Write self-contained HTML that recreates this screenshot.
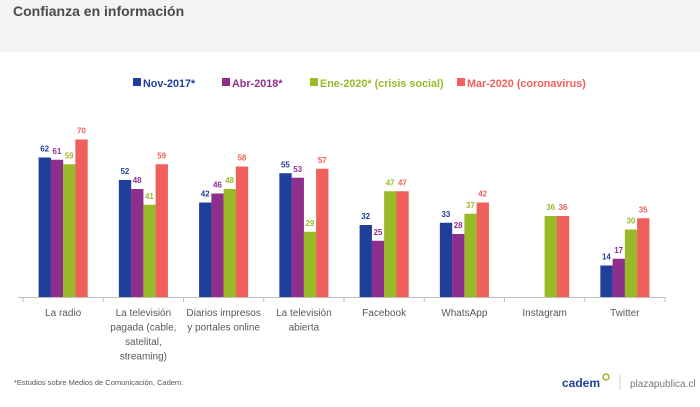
<!DOCTYPE html>
<html><head><meta charset="utf-8"><style>
html,body{margin:0;padding:0;background:#fff;}
body{width:700px;height:402px;overflow:hidden;font-family:"Liberation Sans",sans-serif;}
</style></head><body>
<svg id="s" width="700" height="402" xmlns="http://www.w3.org/2000/svg" font-family="Liberation Sans, sans-serif">
<rect x="0" y="0" width="700" height="52" fill="#f3f4f6"/>
<text x="13" y="16" font-size="14" font-weight="bold" fill="#4a4a4a">Confianza en información</text>
<g font-size="10.8" font-weight="bold">
<rect x="133" y="78" width="8" height="8" fill="#1f3f9b"/><text x="143" y="87" fill="#1f3f9b">Nov-2017*</text>
<rect x="222" y="78" width="8" height="8" fill="#8e2f8e"/><text x="232" y="87" fill="#8e2f8e">Abr-2018*</text>
<rect x="310" y="78" width="8" height="8" fill="#98b928"/><text x="320" y="87" fill="#98b928">Ene-2020* (crisis social)</text>
<rect x="457" y="78" width="8" height="8" fill="#f0605a"/><text x="467" y="87" fill="#f0605a">Mar-2020 (coronavirus)</text>
</g>
<g id="bars"></g>
<line x1="18" y1="297.5" x2="665" y2="297.5" stroke="#bfbfbf" stroke-width="1"/>
<g id="ticks" stroke="#bfbfbf"></g>
<g id="labels" font-size="10" fill="#595959" text-anchor="middle"></g>
<text x="14" y="385" font-size="7.5" fill="#555">*Estudios sobre Medios de Comunicación, Cadem.</text>
<text x="562" y="387" font-size="12" font-weight="bold" fill="#1f3f9b">cadem</text>
<circle cx="606" cy="377" r="3" fill="none" stroke="#98b928" stroke-width="1.5"/>
<line x1="620" y1="375" x2="620" y2="390" stroke="#ccc"/>
<text x="630" y="387" font-size="10" fill="#777">plazapublica.cl</text>
</svg>
<script>
var cols=["#1f3f9b","#8e2f8e","#98b928","#f0605a"];
var data=[[62,61,59,70],[52,48,41,59],[42,46,48,58],[55,53,29,57],[32,25,47,47],[33,28,37,42],[null,null,36,36],[14,17,30,35]];
var labs=[["La radio"],["La televisión","pagada (cable,","satelital,","streaming)"],["Diarios impresos","y portales online"],["La televisión","abierta"],["Facebook"],["WhatsApp"],["Instagram"],["Twitter"]];
var ns="http://www.w3.org/2000/svg",b=document.getElementById("bars"),t=document.getElementById("ticks"),l=document.getElementById("labels");
function el(p,n,a,txt){var e=document.createElementNS(ns,n);for(var k in a)e.setAttribute(k,a[k]);if(txt!=null)e.textContent=txt;p.appendChild(e);return e;}
var cw=80.25,x0=23;
for(var i=0;i<=8;i++)el(t,"line",{x1:x0+cw*i,y1:297,x2:x0+cw*i,y2:302});
for(var i=0;i<8;i++){
 var st=x0+cw*i+15.6;
 for(var j=0;j<4;j++){var v=data[i][j];if(v==null)continue;var h=v*2.25,x=st+12.25*j;
  el(b,"rect",{x:x,y:297-h,width:12.35,height:h,fill:cols[j]});
  el(b,"text",{x:x+6.1,y:297-h-6,"font-size":"8","font-weight":"bold",fill:cols[j],"text-anchor":"middle"},v);}
 var c=x0+cw*i+cw/2;
 labs[i].forEach(function(s,k){el(l,"text",{x:c,y:316+k*14.5},s);});
}
</script>
</body></html>
